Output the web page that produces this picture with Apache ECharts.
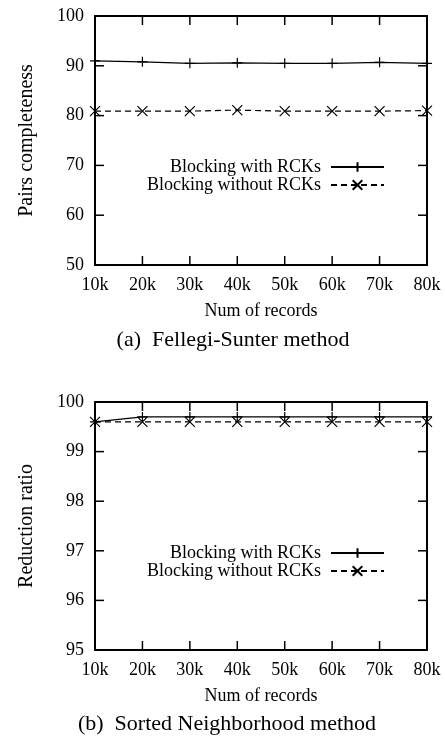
<!DOCTYPE html>
<html>
<head>
<meta charset="utf-8">
<script src="https://cdn.jsdelivr.net/npm/echarts@6/dist/echarts.min.js"></script>
<style>
	html, body { margin: 0; padding: 0; background: #fff; }
	#chart { width: 445px; height: 737px; }
</style>
</head>
<body>
<div id="chart"></div>
<script>
// x categories shared by both panels
const records = ['10k', '20k', '30k', '40k', '50k', '60k', '70k', '80k']

// (a) Fellegi-Sunter method - pairs completeness
const pcWithRck = [91.0, 90.8, 90.5, 90.6, 90.5, 90.5, 90.7, 90.5]
const pcWithoutRck = [80.9, 80.9, 80.9, 81.1, 80.9, 80.9, 80.9, 81.0]
const pcYTicks = [50, 60, 70, 80, 90, 100]

// (b) Sorted Neighborhood method - reduction ratio
const rrWithRck = [99.6, 99.7, 99.7, 99.7, 99.7, 99.7, 99.7, 99.7]
const rrWithoutRck = [99.6, 99.6, 99.6, 99.6, 99.6, 99.6, 99.6, 99.6]
const rrYTicks = [95, 96, 97, 98, 99, 100]

const seriesNames = ['Blocking with RCKs', 'Blocking without RCKs']

const FONT = 'Liberation Serif'
const PLUS = 'path://M0,5L10,5M5,0L5,10'
const CROSS = 'path://M0,0L10,10M10,0L0,10'
const TICK_LEN = 9

const frameLine = () => ({ show: true, lineStyle: { color: '#000', width: 2 } })

// bottom axis with labels + top axis for the frame
const makeX = (g) => [
	{
		type: 'category', gridIndex: g, data: records, boundaryGap: false, position: 'bottom',
		axisLine: frameLine(), axisTick: { show: false },
		axisLabel: { color: '#000', fontFamily: FONT, fontSize: 18, margin: 11 },
		name: 'Num of records', nameLocation: 'middle', nameGap: 37,
		nameTextStyle: { color: '#000', fontFamily: FONT, fontSize: 18 },
		splitLine: { show: false }
	},
	{
		type: 'category', gridIndex: g, data: records, boundaryGap: false, position: 'top',
		axisLine: frameLine(), axisTick: { show: false }, axisLabel: { show: false }, splitLine: { show: false }
	}
]

// left axis with labels + right axis for the frame
const makeY = (g, ticks, title) => {
	const base = {
		type: 'value', gridIndex: g,
		min: ticks[0], max: ticks[ticks.length - 1], interval: ticks[1] - ticks[0],
		axisLine: frameLine(), axisTick: { show: false }, splitLine: { show: false }
	}
	return [
		Object.assign({}, base, {
			position: 'left',
			axisLabel: { color: '#000', fontFamily: FONT, fontSize: 18, margin: 11 },
			name: title, nameLocation: 'middle', nameGap: 58,
			nameTextStyle: { color: '#000', fontFamily: FONT, fontSize: 20 }
		}),
		Object.assign({}, base, { position: 'right', axisLabel: { show: false } })
	]
}

const makeSeries = (name, values, i, dashed) => ({
	name: name, type: 'line', xAxisIndex: i, yAxisIndex: i, data: values,
	symbol: dashed ? CROSS : PLUS, symbolSize: 10, clip: false,
	itemStyle: { color: '#000', borderColor: '#000', borderWidth: 1.2 },
	lineStyle: { color: '#000', width: 1.2, type: dashed ? [6, 4] : 'solid' },
	emphasis: { disabled: true }
})

// inward tick marks on all four sides, placed with api.coord
const tickStyle = { stroke: '#000', lineWidth: 1.5 }
const renderYTick = (params, api) => {
	const cs = params.coordSys
	const y = api.coord([api.value(0), api.value(1)])[1]
	return {
		type: 'group',
		children: [
			{ type: 'line', shape: { x1: cs.x, y1: y, x2: cs.x + TICK_LEN, y2: y }, style: tickStyle },
			{ type: 'line', shape: { x1: cs.x + cs.width - TICK_LEN, y1: y, x2: cs.x + cs.width, y2: y }, style: tickStyle }
		]
	}
}
const renderXTick = (params, api) => {
	const cs = params.coordSys
	const x = api.coord([api.value(0), api.value(1)])[0]
	return {
		type: 'group',
		children: [
			{ type: 'line', shape: { x1: x, y1: cs.y + cs.height, x2: x, y2: cs.y + cs.height - TICK_LEN }, style: tickStyle },
			{ type: 'line', shape: { x1: x, y1: cs.y, x2: x, y2: cs.y + TICK_LEN }, style: tickStyle }
		]
	}
}
const makeTicks = (i, yTicks) => [
	{
		name: 'yticks', type: 'custom', xAxisIndex: i, yAxisIndex: i, clip: false, silent: true, z: 3,
		renderItem: renderYTick, data: yTicks.map(v => [0, v])
	},
	{
		name: 'xticks', type: 'custom', xAxisIndex: i, yAxisIndex: i, clip: false, silent: true, z: 3,
		renderItem: renderXTick, data: records.map((r, k) => [k, yTicks[0]])
	}
]

const legendCommon = {
	orient: 'vertical', right: 60, padding: 0, align: 'right',
	itemWidth: 53, itemHeight: 12, itemGap: 0, selectedMode: false,
	textStyle: { color: '#000', fontFamily: FONT, fontSize: 18, lineHeight: 16, padding: [0, 5, 0, 0] },
	data: seriesNames
}

const chart = echarts.init(document.getElementById('chart'))

chart.setOption({
	animation: false,
	grid: [
		{ left: 95, top: 16, width: 332, height: 249 },
		{ left: 95, top: 402, width: 332, height: 248 }
	],
	xAxis: [...makeX(0), ...makeX(1)],
	yAxis: [...makeY(0, pcYTicks, 'Pairs completeness'), ...makeY(1, rrYTicks, 'Reduction ratio')],
	legend: [
		Object.assign({ top: 158 }, legendCommon),
		Object.assign({ top: 544 }, legendCommon)
	],
	series: [
		...makeTicks(0, pcYTicks),
		...makeTicks(2, rrYTicks),
		makeSeries(seriesNames[0], pcWithRck, 0, false),
		makeSeries(seriesNames[1], pcWithoutRck, 0, true),
		makeSeries(seriesNames[0], rrWithRck, 2, false),
		makeSeries(seriesNames[1], rrWithoutRck, 2, true)
	],
	graphic: [
		{ type: 'text', x: 233, y: 340, style: { text: '(a)  Fellegi-Sunter method', font: '22px "Liberation Serif"', fill: '#000', align: 'center', verticalAlign: 'middle' } },
		{ type: 'text', x: 227, y: 724, style: { text: '(b)  Sorted Neighborhood method', font: '22px "Liberation Serif"', fill: '#000', align: 'center', verticalAlign: 'middle' } }
	]
})
</script>
</body>
</html>
